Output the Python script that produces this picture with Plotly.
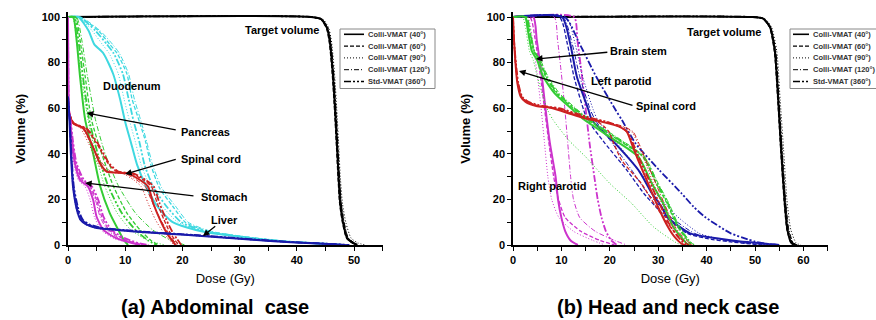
import plotly.graph_objects as go

# ---------------- data ----------------
TECHNIQUES = ["Colli-VMAT (40°)", "Colli-VMAT (60°)", "Colli-VMAT (90°)",
              "Colli-VMAT (120°)", "Std-VMAT (360°)"]

# (a) Abdominal case  -- dose (Gy) read at each volume (%) level
A_TARGET_VOL = [100, 100, 99, 95, 88.6, 75, 59, 45, 30, 18, 9.6, 3, 0.9, 0]
A_TARGET_D40 = [0, 42.5, 44.3, 45.3, 45.8, 46.3, 46.7, 47.0, 47.3, 47.6, 48.1, 48.8, 49.8, 50.5]
A_TARGET_D60 = [0, 42.5, 44.2, 45.2, 45.7, 46.2, 46.6, 46.9, 47.2, 47.5, 48.0, 48.7, 49.7, 50.4]
A_TARGET_D90 = [0, 42.8, 44.6, 45.6, 46.1, 46.6, 47.0, 47.3, 47.6, 48.0, 48.6, 49.5, 50.7, 52.0]
A_TARGET_D120 = [0, 42.6, 44.4, 45.4, 45.9, 46.4, 46.8, 47.1, 47.4, 47.8, 48.3, 49.0, 50.1, 51.0]
A_TARGET_D360 = [0, 42.5, 44.3, 45.4, 45.9, 46.4, 46.8, 47.1, 47.4, 47.7, 48.2, 48.9, 49.9, 50.7]

A_DUO_VOL = [100, 100, 94, 88, 84, 75, 64, 54, 45, 35, 25, 17, 10, 6, 3, 1.5, 0.5, 0]
A_DUO_D40 = [0, 1.8, 3.6, 4.6, 6.2, 7.9, 9.1, 10.0, 11.0, 12.1, 13.8, 15.6, 18.3, 23.3, 32.0, 38.0, 45.0, 48.0]
A_DUO_D60 = [0, 2.0, 5.3, 7.3, 8.6, 10.3, 11.2, 12.5, 13.6, 14.5, 16.0, 18.3, 20.5, 24.5, 32.5, 38.5, 45.0, 48.0]
A_DUO_D90 = [0, 1.8, 4.2, 6.0, 7.2, 8.8, 9.8, 10.8, 11.8, 12.8, 14.5, 16.5, 19.2, 23.8, 32.0, 38.0, 45.0, 48.0]
A_DUO_D120 = [0, 2.2, 5.6, 7.8, 9.0, 10.6, 11.6, 12.8, 13.8, 14.8, 16.4, 18.8, 21.0, 25.0, 33.0, 38.5, 45.0, 48.0]
A_DUO_D360 = [0, 2.0, 4.8, 6.8, 8.0, 9.6, 10.6, 11.5, 12.5, 13.4, 15.0, 17.2, 19.8, 24.0, 32.5, 38.2, 45.0, 48.0]

A_PAN_VOL = [100, 100, 90, 74, 55, 40, 26, 14, 6.6, 2, 0]
A_PAN_D40 = [0, 0.9, 1.5, 2.1, 3.0, 4.4, 5.6, 7.3, 8.8, 9.8, 10.5]
A_PAN_D60 = [0, 1.3, 2.1, 3.0, 4.1, 5.9, 7.9, 10.3, 12.6, 14.5, 15.8]
A_PAN_D90 = [0, 0.8, 1.5, 2.3, 3.5, 4.8, 6.4, 8.6, 11.0, 14.0, 17.0]
A_PAN_D120 = [0, 1.5, 2.4, 3.4, 4.8, 6.5, 8.8, 11.8, 14.8, 18.0, 20.5]
A_PAN_D360 = [0, 1.1, 1.8, 2.6, 3.7, 5.2, 7.0, 9.4, 11.8, 14.0, 15.5]

A_SC_VOL = [62, 58, 53.4, 51.2, 44.6, 35.8, 32.2, 31.4, 28.5, 25.6, 18.3, 11, 5.1, 0]
A_SC_D40 = [0, 0.2, 0.9, 2.7, 4.1, 5.6, 6.8, 10.3, 12.6, 14.0, 14.9, 16.1, 17.3, 18.8]
A_SC_D60 = [0, 0.2, 1.0, 3.0, 5.0, 7.0, 8.5, 11.0, 13.2, 14.6, 15.6, 16.8, 17.9, 19.3]
A_SC_D90 = [0, 0.2, 0.8, 2.2, 3.6, 5.2, 6.4, 9.5, 11.5, 12.8, 14.0, 15.3, 16.8, 18.5]
A_SC_D120 = [0, 0.2, 0.9, 2.5, 4.0, 6.0, 7.5, 10.0, 12.0, 13.5, 14.8, 16.2, 17.6, 19.0]
A_SC_D360 = [0, 0.2, 1.0, 3.2, 5.2, 7.2, 8.8, 11.4, 13.6, 15.0, 16.0, 17.2, 18.4, 19.8]

A_STO_VOL = [100, 80, 60, 54.8, 45, 35.8, 28.5, 25.6, 19.7, 12.4, 6.6, 2.9, 0.7, 0]
A_STO_D40 = [0, 0.05, 0.15, 0.35, 0.7, 1.2, 2.1, 3.5, 4.4, 5.0, 6.2, 8.5, 11.4, 12.6]
A_STO_D60 = [0, 0.05, 0.15, 0.4, 0.8, 1.4, 2.5, 3.9, 5.0, 5.9, 7.2, 9.5, 12.0, 13.5]
A_STO_D90 = [0, 0.05, 0.12, 0.3, 0.6, 1.0, 1.8, 3.0, 3.9, 4.6, 5.8, 8.0, 11.5, 14.5]
A_STO_D120 = [0, 0.05, 0.15, 0.4, 0.8, 1.3, 2.3, 3.7, 4.8, 5.6, 6.9, 9.0, 12.0, 14.0]
A_STO_D360 = [0, 0.05, 0.15, 0.45, 0.9, 1.5, 2.8, 4.2, 5.3, 6.2, 7.6, 10.0, 12.5, 14.0]

A_LIV_VOL = [65, 55, 40, 25, 15, 11, 9, 7.5, 6.5, 5.5, 4.4, 3.3, 2.2, 1.2, 0.6, 0]
A_LIV_D40 = [0, 0.25, 0.5, 0.9, 1.6, 2.2, 3.2, 5.0, 9.0, 14.0, 21.0, 27.0, 33.0, 39.0, 44.5, 48.5]
A_LIV_D60 = [0, 0.3, 0.6, 1.0, 1.8, 2.5, 3.6, 5.6, 9.8, 14.8, 21.8, 27.6, 33.5, 39.5, 45.0, 49.0]
A_LIV_D90 = [0, 0.25, 0.5, 0.85, 1.5, 2.1, 3.0, 4.6, 8.5, 13.5, 20.5, 26.5, 32.5, 38.5, 44.0, 48.0]
A_LIV_D120 = [0, 0.3, 0.55, 0.95, 1.7, 2.4, 3.4, 5.3, 9.4, 14.4, 21.4, 27.3, 33.2, 39.2, 44.8, 48.8]
A_LIV_D360 = [0, 0.3, 0.6, 1.05, 1.9, 2.6, 3.8, 5.9, 10.2, 15.2, 22.0, 28.0, 33.8, 39.8, 45.2, 49.2]

# (b) Head and neck case
B_TARGET_VOL = [100, 100, 99.3, 95.6, 85, 63.6, 42, 19.8, 6.7, 0.9, 0]
B_TARGET_D40 = [0, 49.3, 51.7, 53.1, 54.1, 54.8, 55.4, 56.1, 56.7, 57.5, 58.2]
B_TARGET_D60 = [0, 49.2, 51.6, 53.0, 54.0, 54.7, 55.3, 56.0, 56.6, 57.5, 58.3]
B_TARGET_D90 = [0, 49.6, 52.0, 53.4, 54.5, 55.2, 55.9, 56.6, 57.4, 58.5, 59.5]
B_TARGET_D120 = [0, 49.4, 51.8, 53.2, 54.2, 54.9, 55.6, 56.3, 57.0, 57.9, 58.8]
B_TARGET_D360 = [0, 49.3, 51.7, 53.1, 54.2, 54.9, 55.5, 56.2, 56.8, 57.7, 58.5]

B_BS_VOL = [100, 100, 95, 85, 81, 74, 66.5, 59, 54.8, 46, 38.7, 27, 18.3, 8, 0.7, 0]
B_BS_D40 = [0, 2.5, 3.0, 3.9, 5.0, 6.2, 8.6, 12.5, 14.8, 21.0, 25.9, 28.7, 31.0, 33.1, 35.9, 36.5]
B_BS_D60 = [0, 2.6, 3.2, 4.3, 5.4, 6.7, 9.0, 13.0, 15.5, 21.8, 26.8, 29.6, 31.8, 34.0, 36.6, 37.2]
B_BS_D90 = [0, 2.0, 2.6, 3.4, 4.2, 5.0, 6.0, 7.2, 8.3, 11.5, 15.0, 20.0, 24.5, 29.0, 34.0, 35.5]
B_BS_D120 = [0, 2.6, 3.3, 4.5, 5.7, 7.2, 9.6, 13.5, 16.0, 22.4, 27.2, 30.0, 32.2, 34.4, 37.0, 37.8]
B_BS_D360 = [0, 2.8, 3.4, 4.4, 5.5, 6.9, 9.2, 13.2, 15.7, 22.0, 27.0, 29.8, 32.0, 34.2, 36.8, 37.4]

B_LP_VOL = [100, 100, 88.5, 73.8, 59.2, 54.8, 44.6, 32.9, 22.7, 16.8, 12.4, 5.1, 2.5, 1.5, 0.3, 0]
B_LP_D40 = [0, 10.1, 11.8, 13.2, 15.6, 16.3, 21.1, 25.9, 28.7, 30.7, 31.8, 36.6, 43.5, 47.0, 53.8, 55.0]
B_LP_D60 = [0, 9.6, 11.2, 12.6, 14.6, 15.4, 19.0, 23.5, 27.0, 29.5, 31.5, 36.0, 41.0, 44.5, 50.0, 52.0]
B_LP_D90 = [0, 11.0, 12.8, 14.4, 16.6, 17.5, 21.5, 26.0, 29.5, 32.0, 34.0, 38.5, 43.0, 46.0, 51.0, 53.0]
B_LP_D120 = [0, 10.3, 12.2, 13.8, 16.0, 17.0, 20.5, 24.5, 27.8, 30.5, 32.5, 37.5, 42.5, 45.5, 50.5, 52.5]
B_LP_D360 = [0, 10.7, 13.7, 17.2, 21.2, 22.5, 25.3, 30.2, 34.8, 37.3, 39.6, 45.0, 48.5, 50.0, 53.0, 54.5]

B_SC_VOL = [100, 90, 80, 71, 65, 62.8, 61, 60, 57.7, 55.5, 54, 52, 49.7, 44.6, 37, 27, 17, 8, 3.8, 0.4, 0]
B_SC_D40 = [0, 0.2, 0.5, 0.9, 1.6, 2.6, 4.8, 8.2, 11.6, 15.0, 18.4, 21.8, 23.5, 24.5, 25.9, 27.9, 29.9, 32.0, 33.3, 35.0, 35.7]
B_SC_D60 = [0, 0.2, 0.5, 1.0, 1.8, 3.0, 5.5, 9.0, 12.5, 15.5, 17.5, 18.8, 19.8, 20.8, 22.5, 26.5, 29.5, 32.5, 34.2, 36.0, 36.8]
B_SC_D90 = [0, 0.2, 0.5, 0.9, 1.7, 2.8, 5.0, 8.5, 12.0, 15.5, 19.0, 22.5, 24.5, 25.8, 27.2, 29.0, 31.0, 33.0, 34.5, 36.2, 37.0]
B_SC_D120 = [0, 0.2, 0.6, 1.0, 1.8, 2.9, 5.2, 8.8, 12.2, 15.8, 19.2, 22.8, 24.8, 26.0, 27.5, 29.5, 31.5, 33.5, 35.0, 36.8, 37.5]
B_SC_D360 = [0, 0.2, 0.6, 1.1, 1.9, 3.2, 6.0, 9.5, 13.0, 16.5, 19.5, 22.0, 23.6, 24.8, 26.3, 28.4, 30.5, 32.6, 34.0, 35.6, 36.4]

B_RP_VOL = [100, 100, 90, 75, 60, 45, 30, 20, 12, 6, 2, 0]
B_RP_D40 = [0, 4.2, 4.9, 5.9, 6.7, 7.6, 8.8, 9.3, 10.0, 10.8, 11.9, 13.4]
B_RP_D60 = [0, 3.5, 4.6, 5.6, 6.5, 7.4, 8.4, 9.4, 10.8, 14.0, 18.0, 21.0]
B_RP_D90 = [0, 3.0, 4.0, 5.0, 5.8, 6.5, 7.2, 8.0, 9.5, 12.5, 16.5, 19.0]
B_RP_D120 = [0, 8.5, 9.2, 10.0, 10.7, 11.3, 11.9, 12.5, 13.8, 17.0, 21.0, 23.5]
B_RP_D360 = [0, 12.6, 13.3, 14.2, 15.0, 15.8, 16.8, 17.5, 18.3, 19.2, 20.3, 21.5]

ANNOT_A = ["Target volume", "Duodenum", "Pancreas", "Spinal cord", "Stomach", "Liver"]
ANNOT_B = ["Target volume", "Brain stem", "Left parotid", "Spinal cord", "Right parotid"]
PANEL_TITLES = ["(a) Abdominal  case", "(b) Head and neck case"]

# ---------------- styles ----------------
FONT = "Arial, Liberation Sans, sans-serif"
DASHES = ["solid", "4px,2px", "1px,2px", "5px,2px,1px,2px", "7px,2px,2px,2px,2px,2px"]
WIDTHS = [2.0, 1.3, 1.0, 1.0, 1.8]
ORDER = [4, 3, 2, 1, 0]
BLACK = "#000000"
CYAN = "#3ED8E0"
GREEN = "#33CC33"
RED = "#CC2020"
MAGENTA = "#CC33CC"
BLUE = "#1A1AAA"

fig = go.Figure()


def add_organ(vol, doses, color, xa, ya):
    for i in ORDER:
        fig.add_trace(go.Scatter(
            x=doses[i], y=vol, mode="lines", name=TECHNIQUES[i], showlegend=False,
            line=dict(color=color, width=WIDTHS[i], dash=DASHES[i], shape="spline", smoothing=0.6),
            xaxis=xa, yaxis=ya, hoverinfo="skip"))


add_organ(A_TARGET_VOL, [A_TARGET_D40, A_TARGET_D60, A_TARGET_D90, A_TARGET_D120, A_TARGET_D360], BLACK, "x", "y")
add_organ(A_DUO_VOL, [A_DUO_D40, A_DUO_D60, A_DUO_D90, A_DUO_D120, A_DUO_D360], CYAN, "x", "y")
add_organ(A_PAN_VOL, [A_PAN_D40, A_PAN_D60, A_PAN_D90, A_PAN_D120, A_PAN_D360], GREEN, "x", "y")
add_organ(A_SC_VOL, [A_SC_D40, A_SC_D60, A_SC_D90, A_SC_D120, A_SC_D360], RED, "x", "y")
add_organ(A_STO_VOL, [A_STO_D40, A_STO_D60, A_STO_D90, A_STO_D120, A_STO_D360], MAGENTA, "x", "y")
add_organ(A_LIV_VOL, [A_LIV_D40, A_LIV_D60, A_LIV_D90, A_LIV_D120, A_LIV_D360], BLUE, "x", "y")

add_organ(B_TARGET_VOL, [B_TARGET_D40, B_TARGET_D60, B_TARGET_D90, B_TARGET_D120, B_TARGET_D360], BLACK, "x2", "y2")
add_organ(B_RP_VOL, [B_RP_D40, B_RP_D60, B_RP_D90, B_RP_D120, B_RP_D360], MAGENTA, "x2", "y2")
add_organ(B_LP_VOL, [B_LP_D40, B_LP_D60, B_LP_D90, B_LP_D120, B_LP_D360], BLUE, "x2", "y2")
add_organ(B_BS_VOL, [B_BS_D40, B_BS_D60, B_BS_D90, B_BS_D120, B_BS_D360], GREEN, "x2", "y2")
add_organ(B_SC_VOL, [B_SC_D40, B_SC_D60, B_SC_D90, B_SC_D120, B_SC_D360], RED, "x2", "y2")

W, H = 876, 320


def px(x):
    return x / W


def py(y):
    return 1 - y / H


tickfont = dict(family=FONT, size=11, color="black", weight="bold")
titlefont = dict(family=FONT, size=13, color="black")


def xaxis(dom, rng):
    return dict(domain=dom, range=rng, showline=True, linecolor="black", linewidth=1.5,
                ticks="outside", ticklen=4, tickwidth=1.2, tickcolor="black",
                tick0=0, dtick=10, showgrid=False, zeroline=False, tickfont=tickfont,
                minor=dict(dtick=5, ticks="outside", ticklen=4, tickwidth=1.2, tickcolor="black", showgrid=False),
                title=dict(text="Dose (Gy)", font=titlefont, standoff=9), automargin=False)


def yaxis(anchor):
    return dict(domain=[py(245), py(245 - 102 * 2.28)], range=[0, 102], anchor=anchor,
                showline=True, linecolor="black", linewidth=1.5,
                ticks="outside", ticklen=4, tickwidth=1.2, tickcolor="black",
                tick0=0, dtick=20, showgrid=False, zeroline=False, tickfont=tickfont,
                minor=dict(dtick=10, ticks="outside", ticklen=4, tickwidth=1.2, tickcolor="black", showgrid=False),
                title=dict(text="Volume (%)", font=dict(family=FONT, size=13, color="black", weight="bold"), standoff=13),
                automargin=False)


xa = xaxis([px(68), px(382.6)], [0, 55])
xa["anchor"] = "y"
xb = xaxis([px(513), px(827.6)], [0, 65])
xb["anchor"] = "y2"

annotations = []
afont = dict(family=FONT, size=11, color="black", weight="bold")
# panel a labels (data coords)
for txt, x, y in zip(ANNOT_A, [37.4, 11.2, 24.1, 25.0, 27.3, 27.4], [94.3, 69.7, 49.6, 37.7, 21.1, 11.0]):
    annotations.append(dict(text=txt, x=x, y=y, xref="x", yref="y", showarrow=False, font=afont))
for (hx, hy, tx, ty) in [(3.3, 57.9, 19.1, 50.4), (10.0, 31.1, 19.1, 37.7), (3.0, 27.2, 22.2, 21.5), (23.6, 3.9, 26.0, 8.8)]:
    annotations.append(dict(text="", x=hx, y=hy, ax=tx, ay=ty, xref="x", yref="y", axref="x", ayref="y",
                            showarrow=True, arrowhead=2, arrowsize=1, arrowwidth=1.3, arrowcolor="black"))
for txt, x, y in zip(ANNOT_B, [43.6, 26.0, 22.5, 31.6, 8.1], [93.4, 85.1, 71.9, 61.0, 25.9]):
    annotations.append(dict(text=txt, x=x, y=y, xref="x2", yref="y2", showarrow=False, font=afont))
for (hx, hy, tx, ty) in [(4.75, 81.6, 19.8, 84.6), (1.24, 76.3, 25.0, 61.0)]:
    annotations.append(dict(text="", x=hx, y=hy, ax=tx, ay=ty, xref="x2", yref="y2", axref="x2", ayref="y2",
                            showarrow=True, arrowhead=2, arrowsize=1, arrowwidth=1.3, arrowcolor="black"))
# panel titles
for txt, cx in zip(PANEL_TITLES, [215, 668]):
    annotations.append(dict(text=txt, x=px(cx), y=py(307), xref="paper", yref="paper", showarrow=False,
                            xanchor="center", yanchor="middle", borderpad=0,
                            font=dict(family=FONT, size=20, color="black", weight="bold")))

# legends (drawn as boxes with sample lines)
shapes = []
LEG_ROWS = [34.3, 46.1, 57.9, 69.7, 81.5]
for (bx0, bx1, lx0, lx1, tx) in [(340, 435, 344, 364, 366), (790, 900, 793, 809, 811)]:
    shapes.append(dict(type="rect", xref="paper", yref="paper", x0=px(bx0), x1=px(bx1), y0=py(88.5), y1=py(29),
                       line=dict(color="#888888", width=1), fillcolor="white", layer="above"))
    for i, yy in enumerate(LEG_ROWS):
        shapes.append(dict(type="line", xref="paper", yref="paper", x0=px(lx0), x1=px(lx1), y0=py(yy), y1=py(yy),
                           line=dict(color="black", width=min(WIDTHS[i], 1.6), dash=DASHES[i]), layer="above"))
        annotations.append(dict(text=TECHNIQUES[i], x=px(tx), y=py(yy), xref="paper", yref="paper",
                                showarrow=False, xanchor="left", yanchor="middle",
                                font=dict(family=FONT, size=7.5, color="#333333", weight="bold")))

fig.update_layout(
    width=W, height=H, autosize=False,
    margin=dict(l=0, r=0, t=0, b=0),
    paper_bgcolor="white", plot_bgcolor="white",
    xaxis=xa, yaxis=yaxis("x"), xaxis2=xb, yaxis2=yaxis("x2"),
    annotations=annotations, shapes=shapes, showlegend=False,
)

fig.write_html("out.html")
